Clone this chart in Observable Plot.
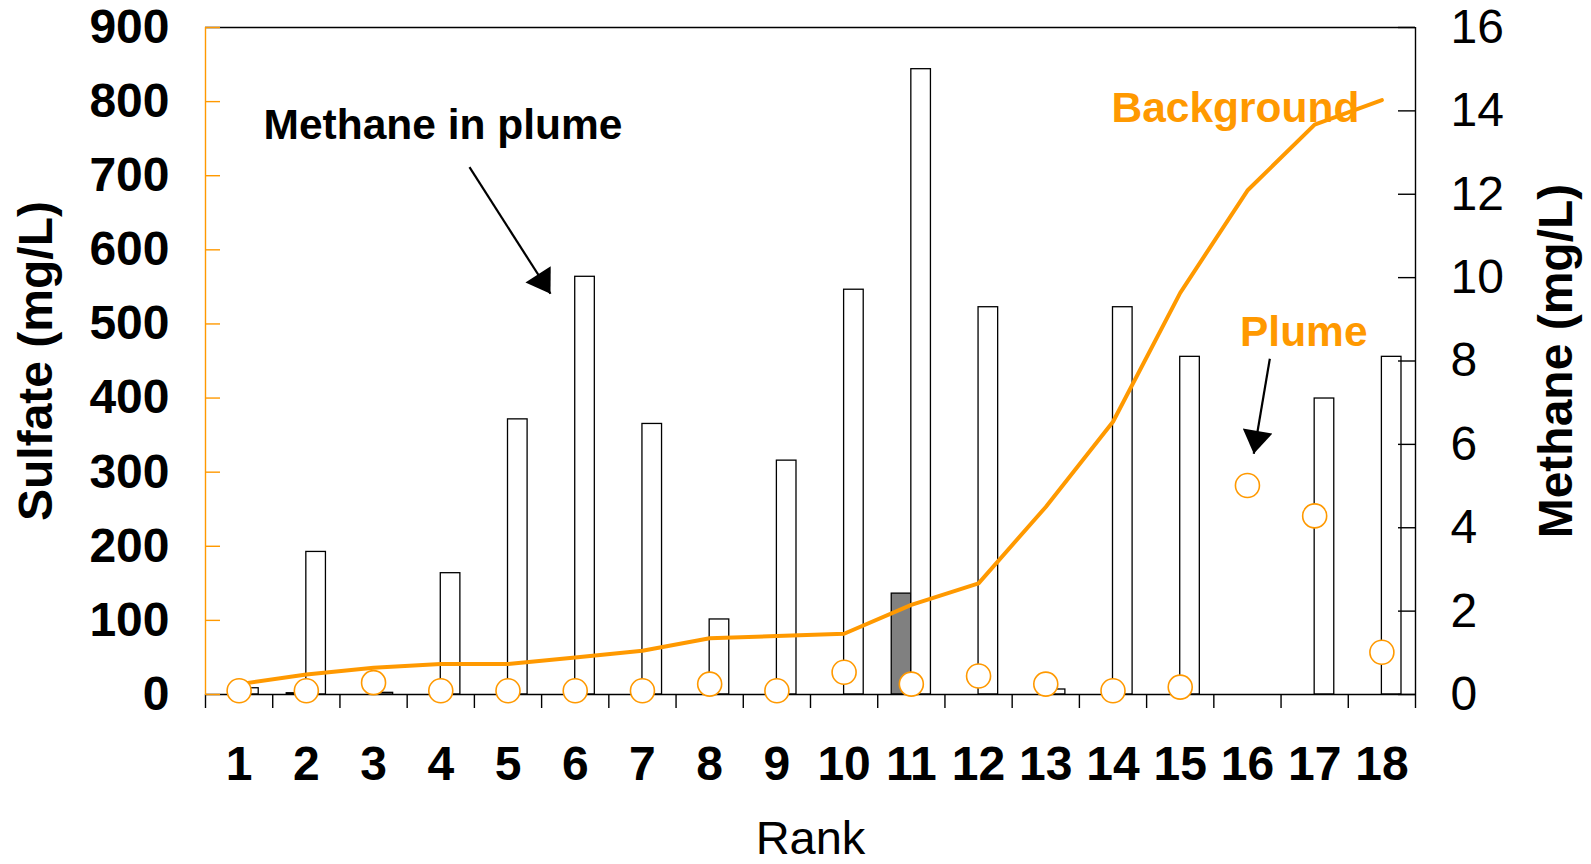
<!DOCTYPE html>
<html>
<head>
<meta charset="utf-8">
<script src="https://cdn.jsdelivr.net/npm/d3@7"></script>
<script src="https://cdn.jsdelivr.net/npm/@observablehq/plot@0.6"></script>
<style>
  html, body { margin: 0; padding: 0; background: #fff; }
  #chart { width: 1591px; height: 864px; }
</style>
</head>
<body>
<div id="chart"></div>
<script>
// ---- data ----
const ranks = [1, 2, 3, 4, 5, 6, 7, 8, 9, 10, 11, 12, 13, 14, 15, 16, 17, 18];
// Sulfate, background (orange line, left axis, mg/L)
const sulfateBackground = [14, 27, 36, 41, 41, 50, 59, 76, 79, 82, 121, 150, 253, 368, 542, 680, 769, 802];
// Sulfate, plume (orange open circles, left axis, mg/L)
const sulfatePlume = [5, 5, 16, 5, 5, 5, 5, 14, 5, 30, 14, 25, 14, 5, 10, 282, 241, 57];
// Methane in plume (white bars, right axis, mg/L)
const methanePlume = [0.15, 3.42, 0.04, 2.91, 6.60, 10.02, 6.49, 1.80, 5.61, 9.71, 15.0, 9.29, 0.12, 9.29, 8.10, 0, 7.10, 8.10];
// Methane in background (grey bars, right axis, mg/L)
const methaneBackground = [0, 0.03, 0, 0, 0, 0, 0, 0, 0, 0, 2.42, 0, 0, 0, 0, 0, 0, 0];

const sulfateTicks = [0, 100, 200, 300, 400, 500, 600, 700, 800, 900];
const methaneTicks = [0, 2, 4, 6, 8, 10, 12, 14, 16];
const sulfateMax = 900;
const methaneMax = 16;

// annotations (positions in data units: rank, sulfate mg/L)
const annotationLabels = ["Methane in plume", "Background", "Plume"];
const annotationRank = [1.363, 13.978, 15.889];
const annotationValue = [768, 791, 488];
const annotationColor = ["black", "#FF9900", "#FF9900"];
const arrowFromRank = [4.427, 16.333];
const arrowFromValue = [711.5, 453];
const arrowToRank = [5.632, 16.094];
const arrowToValue = [540.7, 324.8];

// ---- build tables ----
const factor = sulfateMax / methaneMax; // maps methane onto sulfate scale
const rows = ranks.map((r, i) => ({
  rank: r,
  bg: sulfateBackground[i],
  plume: sulfatePlume[i],
  mPlume: methanePlume[i],
  mBg: methaneBackground[i]
}));
const annotations = annotationLabels.map((t, i) => ({label: t, rank: annotationRank[i], value: annotationValue[i], color: annotationColor[i]}));
const arrows = arrowFromRank.map((r, i) => ({x1: r, y1: arrowFromValue[i], x2: arrowToRank[i], y2: arrowToValue[i]}));
const boundaries = [0.5, ...ranks.map(r => r + 0.5)];

const orange = "#FF9900";
const font = "'Liberation Sans', Arial, Helvetica, sans-serif";
const W = 1591, H = 864;
const mL = 205, mR = 176, mT = 27, mB = 170;
const frameW = W - mL - mR;
const barW = 0.2916; // fraction of a category per bar

function headMarker(color, context) {
  const ns = "http://www.w3.org/2000/svg";
  const doc = (context && context.document) || document;
  const m = doc.createElementNS(ns, "marker");
  m.setAttribute("viewBox", "-25 -15 26 30");
  m.setAttribute("markerWidth", 26);
  m.setAttribute("markerHeight", 30);
  m.setAttribute("markerUnits", "userSpaceOnUse");
  m.setAttribute("orient", "auto");
  m.setAttribute("refX", 0);
  m.setAttribute("refY", 0);
  const p = doc.createElementNS(ns, "path");
  p.setAttribute("d", "M0,0L-23,-15L-23,15Z");
  p.setAttribute("fill", "black");
  p.setAttribute("stroke", "none");
  m.appendChild(p);
  return m;
}

let arrowMark;
try {
  arrowMark = Plot.link(arrows, {x1: "x1", y1: "y1", x2: "x2", y2: "y2", stroke: "black", strokeWidth: 2.2, markerEnd: headMarker});
} catch (e) {
  arrowMark = Plot.arrow(arrows, {x1: "x1", y1: "y1", x2: "x2", y2: "y2", stroke: "black", strokeWidth: 2.2, headLength: 24});
}

const chart = Plot.plot({
  width: W,
  height: H,
  marginLeft: mL,
  marginRight: mR,
  marginTop: mT,
  marginBottom: mB,
  style: {fontFamily: font, fontSize: "48px", background: "white", color: "black", overflow: "visible"},
  x: {type: "linear", domain: [0.5, 18.5], label: null},
  y: {domain: [0, sulfateMax], label: null},
  marks: [
    // frame: top and right in black
    Plot.ruleY([sulfateMax], {stroke: "black", strokeWidth: 1.4}),
    Plot.ruleX([18.5], {stroke: "black", strokeWidth: 1.4}),
    // background methane bars (grey), left half of each category
    Plot.rectY(rows.filter(d => d.mBg > 0), {
      x1: d => d.rank - barW, x2: d => d.rank, y1: 0, y2: d => d.mBg * factor,
      fill: "#808080", stroke: "black", strokeWidth: 1.3
    }),
    // plume methane bars (white), right half
    Plot.rectY(rows.filter(d => d.mPlume > 0), {
      x1: d => d.rank, x2: d => d.rank + barW, y1: 0, y2: d => d.mPlume * factor,
      fill: "white", stroke: "black", strokeWidth: 1.3
    }),
    // background sulfate line
    Plot.line(rows, {x: "rank", y: "bg", stroke: orange, strokeWidth: 4, strokeLinejoin: "round", strokeLinecap: "round"}),
    // bottom axis line and category ticks
    Plot.ruleY([0], {stroke: "black", strokeWidth: 1.4}),
    Plot.axisX(boundaries, {anchor: "bottom", tickSize: 14, tickFormat: () => "", stroke: "black", strokeWidth: 1.4, label: null}),
    Plot.axisX(ranks, {anchor: "bottom", tickSize: 0, tickPadding: 51, fontSize: 48, fontWeight: "bold", label: null, tickFormat: d => String(d)}),
    // left axis (orange line, inward ticks)
    Plot.ruleX([0.5], {stroke: orange, strokeWidth: 1.4}),
    Plot.tickY(sulfateTicks, {y: d => d, stroke: orange, strokeWidth: 1.4, insetRight: frameW - 15}),
    Plot.axisY(sulfateTicks, {anchor: "left", tickSize: 0, tickPadding: 36, fontSize: 48, fontWeight: "bold", label: null, tickFormat: d => String(d)}),
    // right axis (methane)
    Plot.tickY(methaneTicks.map(m => m * factor), {y: d => d, stroke: "black", strokeWidth: 1.4, insetLeft: frameW - 17}),
    Plot.axisY(methaneTicks.map(m => m * factor), {anchor: "right", tickSize: 0, tickPadding: 35, fontSize: 48, fontWeight: "normal", label: null, tickFormat: d => String(Math.round(d / factor))}),
    // plume sulfate circles
    Plot.dot(rows, {x: "rank", y: "plume", r: 12, fill: "white", stroke: orange, strokeWidth: 1.6}),
    // axis titles
    Plot.text(["Sulfate (mg/L)"], {frameAnchor: "left", rotate: -90, dx: -169, text: d => d, fontSize: 48, fontWeight: "bold", textAnchor: "middle", lineAnchor: "middle", fill: "black"}),
    Plot.text(["Methane (mg/L)"], {frameAnchor: "right", rotate: -90, dx: 141, text: d => d, fontSize: 48, fontWeight: "bold", textAnchor: "middle", lineAnchor: "middle", fill: "black"}),
    Plot.text(["Rank"], {frameAnchor: "bottom", dy: 144, text: d => d, fontSize: 47, fontWeight: "normal", textAnchor: "middle", lineAnchor: "middle", fill: "black"}),
    // annotations
    arrowMark,
    Plot.text(annotations, {x: "rank", y: "value", text: "label", fill: d => d.color, textAnchor: "start", lineAnchor: "middle", fontSize: 42.5, fontWeight: "bold"})
  ]
});

document.getElementById("chart").appendChild(chart);
</script>
</body>
</html>
